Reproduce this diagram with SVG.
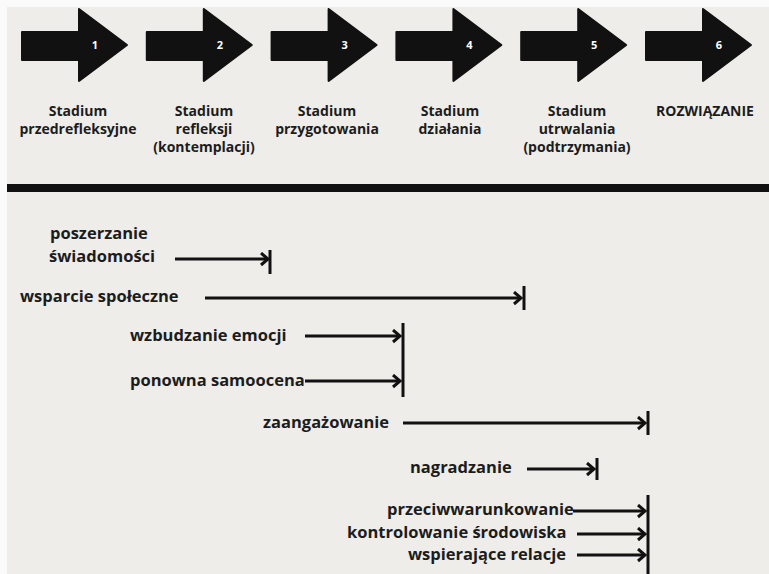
<svg xmlns="http://www.w3.org/2000/svg" width="769" height="574" viewBox="0 0 769 574">
<defs>
<style>
.bg{fill:#efedea}
.lbl{font-family:"Open Sans","DejaVu Sans",sans-serif;font-weight:bold;font-size:14px;fill:#1c1c1c;text-anchor:middle}
.num{font-family:"Open Sans","DejaVu Sans",sans-serif;font-weight:bold;font-size:11px;fill:#ffffff;text-anchor:middle}
.t{font-family:"Open Sans","DejaVu Sans",sans-serif;font-weight:bold;font-size:16.5px;fill:#1c1c1c}
.ln{stroke:#111;stroke-width:3;fill:none}
.bar{stroke:#111;stroke-width:3}
.big{fill:#111;stroke:#111;stroke-width:2;stroke-linejoin:round}
</style>
<path id="bigArrow" d="M0,32 H57 V9 L105,45 L57,81 V60 H0 Z"/>
<marker id="chev" markerUnits="userSpaceOnUse" markerWidth="14" markerHeight="16" refX="9" refY="7" orient="auto" viewBox="0 0 14 16">
<path d="M2,1 L9,7 L2,13" fill="none" stroke="#111" stroke-width="3" stroke-linejoin="miter"/>
</marker>
</defs>
<rect x="0" y="0" width="769" height="574" fill="#fafafa"/>
<rect class="bg" x="7" y="7" width="762" height="567"/>
<rect x="7" y="184" width="762" height="8" fill="#111"/>

<g id="stage1">
<use href="#bigArrow" class="big" x="22"/>
<text class="num" x="95" y="49">1</text>
<text class="lbl" x="78" y="116">Stadium</text>
<text class="lbl" x="78" y="134">przedrefleksyjne</text>
</g>
<g id="stage2">
<use href="#bigArrow" class="big" x="146.8"/>
<text class="num" x="219.8" y="49">2</text>
<text class="lbl" x="204" y="116">Stadium</text>
<text class="lbl" x="204" y="134">refleksji</text>
<text class="lbl" x="204" y="152">(kontemplacji)</text>
</g>
<g id="stage3">
<use href="#bigArrow" class="big" x="271.6"/>
<text class="num" x="344.6" y="49">3</text>
<text class="lbl" x="327" y="116">Stadium</text>
<text class="lbl" x="327" y="134">przygotowania</text>
</g>
<g id="stage4">
<use href="#bigArrow" class="big" x="396.4"/>
<text class="num" x="469.4" y="49">4</text>
<text class="lbl" x="450" y="116">Stadium</text>
<text class="lbl" x="450" y="134">działania</text>
</g>
<g id="stage5">
<use href="#bigArrow" class="big" x="521.2"/>
<text class="num" x="594.2" y="49">5</text>
<text class="lbl" x="577" y="116">Stadium</text>
<text class="lbl" x="577" y="134">utrwalania</text>
<text class="lbl" x="577" y="152">(podtrzymania)</text>
</g>
<g id="stage6">
<use href="#bigArrow" class="big" x="646"/>
<text class="num" x="719" y="49">6</text>
<text class="lbl" x="705" y="116">ROZWIĄZANIE</text>
</g>

<g id="proc-poszerzanie"><text class="t" x="50" y="239">poszerzanie</text><text class="t" x="49" y="262">świadomości</text></g>
<g id="proc-wsparcie"><text class="t" x="20" y="302">wsparcie społeczne</text></g>
<g id="proc-wzbudzanie"><text class="t" x="130" y="341">wzbudzanie emocji</text></g>
<g id="proc-ponowna"><text class="t" x="130" y="386">ponowna samoocena</text></g>
<g id="proc-zaangazowanie"><text class="t" x="263" y="428">zaangażowanie</text></g>
<g id="proc-nagradzanie"><text class="t" x="410" y="473">nagradzanie</text></g>
<g id="proc-przeciw"><text class="t" x="387" y="515">przeciwwarunkowanie</text></g>
<g id="proc-kontrolowanie"><text class="t" x="347" y="538">kontrolowanie środowiska</text></g>
<g id="proc-wspierajace"><text class="t" x="408" y="560">wspierające relacje</text></g>

<g id="connectors">
<line class="ln" x1="175" y1="259" x2="268" y2="259" marker-end="url(#chev)"/>
<line class="bar" x1="270" y1="250" x2="270" y2="274"/>
<line class="ln" x1="205" y1="298" x2="521" y2="298" marker-end="url(#chev)"/>
<line class="bar" x1="524" y1="286" x2="524" y2="310"/>
<line class="ln" x1="305" y1="336" x2="400" y2="336" marker-end="url(#chev)"/>
<line class="ln" x1="305" y1="381" x2="400" y2="381" marker-end="url(#chev)"/>
<line class="bar" x1="403" y1="323" x2="403" y2="397"/>
<line class="ln" x1="403" y1="423" x2="645" y2="423" marker-end="url(#chev)"/>
<line class="bar" x1="648" y1="411" x2="648" y2="435"/>
<line class="ln" x1="527" y1="469" x2="594" y2="469" marker-end="url(#chev)"/>
<line class="bar" x1="597" y1="458" x2="597" y2="480"/>
<line class="ln" x1="573" y1="511" x2="645" y2="511" marker-end="url(#chev)"/>
<line class="ln" x1="577" y1="534" x2="645" y2="534" marker-end="url(#chev)"/>
<line class="ln" x1="577" y1="555" x2="645" y2="555" marker-end="url(#chev)"/>
<line class="bar" x1="648" y1="495" x2="648" y2="574"/>
</g>
</svg>
